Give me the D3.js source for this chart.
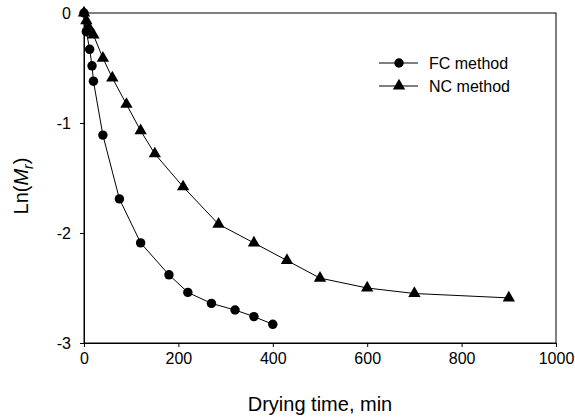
<!DOCTYPE html>
<html>
<head>
<meta charset="utf-8">
<script src="https://cdn.jsdelivr.net/npm/d3@7"></script>
<style>
  body { margin: 0; background: #fff; }
  text { font-family: Arial, "Liberation Sans", sans-serif; fill: #000; }
</style>
</head>
<body>
<svg width="575" height="419"></svg>
<script>
const width = 575;
const height = 419;
const margin = { top: 13, right: 19, bottom: 76, left: 84 };

// Data
const fcTime = [0, 5, 12, 17, 20, 40, 75, 120, 180, 220, 270, 320, 360, 400];
const fcLnMr = [0, -0.17, -0.33, -0.48, -0.62, -1.11, -1.69, -2.09, -2.38, -2.54, -2.64, -2.70, -2.76, -2.83];

const ncTime = [0, 5, 10, 20, 40, 60, 90, 120, 150, 210, 285, 360, 430, 500, 600, 700, 900];
const ncLnMr = [0, -0.07, -0.13, -0.2, -0.41, -0.59, -0.83, -1.07, -1.28, -1.58, -1.92, -2.09, -2.25, -2.41, -2.50, -2.55, -2.59];

const xTicks = [0, 200, 400, 600, 800, 1000];
const yTicks = [0, -1, -2, -3];

const seriesNames = ["FC method", "NC method"];

const svg = d3.select("svg");

const x = d3.scaleLinear().domain([0, 1000]).range([margin.left, width - margin.right]);
const y = d3.scaleLinear().domain([-3, 0]).range([height - margin.bottom, margin.top]);

// frame
svg.append("rect")
  .attr("x", margin.left)
  .attr("y", margin.top)
  .attr("width", width - margin.left - margin.right)
  .attr("height", height - margin.top - margin.bottom)
  .attr("fill", "none")
  .attr("stroke", "#000")
  .attr("stroke-width", 1);

// axes
const xAxis = svg.append("g")
  .attr("transform", `translate(0,${height - margin.bottom})`)
  .call(d3.axisBottom(x).tickValues(xTicks).tickFormat(d3.format("d")).tickSizeOuter(0).tickSize(4).tickPadding(6));

const yAxis = svg.append("g")
  .attr("transform", `translate(${margin.left},0)`)
  .call(d3.axisLeft(y).tickValues(yTicks).tickSizeOuter(0).tickSize(4).tickFormat(d3.format("d")).tickPadding(9));

[xAxis, yAxis].forEach(a => {
  a.select(".domain").attr("stroke", "#000");
  a.selectAll(".tick line").attr("stroke", "#000");
  a.selectAll(".tick text").attr("font-size", 16).attr("font-family", "Arial, 'Liberation Sans', sans-serif");
});
yAxis.selectAll(".tick text").text(d => d === 0 ? "0" : "-" + Math.abs(d));
yAxis.selectAll(".tick text").attr("dy", "0.36em");

// axis titles
svg.append("text")
  .attr("x", (margin.left + width - margin.right) / 2)
  .attr("y", 411)
  .attr("text-anchor", "middle")
  .attr("font-size", 20)
  .text("Drying time, min");

const yTitle = svg.append("text")
  .attr("transform", `translate(28,${(margin.top + height - margin.bottom) / 2 + 8}) rotate(-90)`)
  .attr("text-anchor", "middle")
  .attr("font-size", 20);
yTitle.append("tspan").text("Ln(");
yTitle.append("tspan").attr("font-style", "italic").text("M");
yTitle.append("tspan").attr("font-style", "italic").attr("font-size", 14).attr("dy", 5).text("r");
yTitle.append("tspan").attr("dy", -5).text(")");

// lines + markers
const fcData = fcTime.map((t, i) => ({ t, v: fcLnMr[i] }));
const ncData = ncTime.map((t, i) => ({ t, v: ncLnMr[i] }));

const line = d3.line().x(d => x(d.t)).y(d => y(d.v));

const plot = svg.append("g");

plot.append("path")
  .datum(fcData)
  .attr("d", line)
  .attr("fill", "none")
  .attr("stroke", "#000")
  .attr("stroke-width", 1);

plot.append("path")
  .datum(ncData)
  .attr("d", line)
  .attr("fill", "none")
  .attr("stroke", "#000")
  .attr("stroke-width", 1);

const circleSym = d3.symbol().type(d3.symbolCircle).size(70);
const triSym = d3.symbol().type(d3.symbolTriangle).size(66);

plot.selectAll(".nc")
  .data(ncData)
  .join("path")
  .attr("class", "nc")
  .attr("transform", d => `translate(${x(d.t)},${y(d.v)})`)
  .attr("d", triSym)
  .attr("fill", "#000");

plot.selectAll(".fc")
  .data(fcData)
  .join("path")
  .attr("class", "fc")
  .attr("transform", d => `translate(${x(d.t)},${y(d.v)})`)
  .attr("d", circleSym)
  .attr("fill", "#000");

// legend
const legend = svg.append("g");
const legendRows = [
  { name: seriesNames[0], sym: circleSym, y: 63 },
  { name: seriesNames[1], sym: triSym, y: 86 }
];
legendRows.forEach(r => {
  legend.append("line")
    .attr("x1", 379).attr("x2", 418)
    .attr("y1", r.y).attr("y2", r.y)
    .attr("stroke", "#000");
  legend.append("path")
    .attr("transform", `translate(399,${r.y})`)
    .attr("d", r.sym)
    .attr("fill", "#000");
  legend.append("text")
    .attr("x", 429)
    .attr("y", r.y)
    .attr("dy", "0.36em")
    .attr("font-size", 16)
    .text(r.name);
});
</script>
</body>
</html>
